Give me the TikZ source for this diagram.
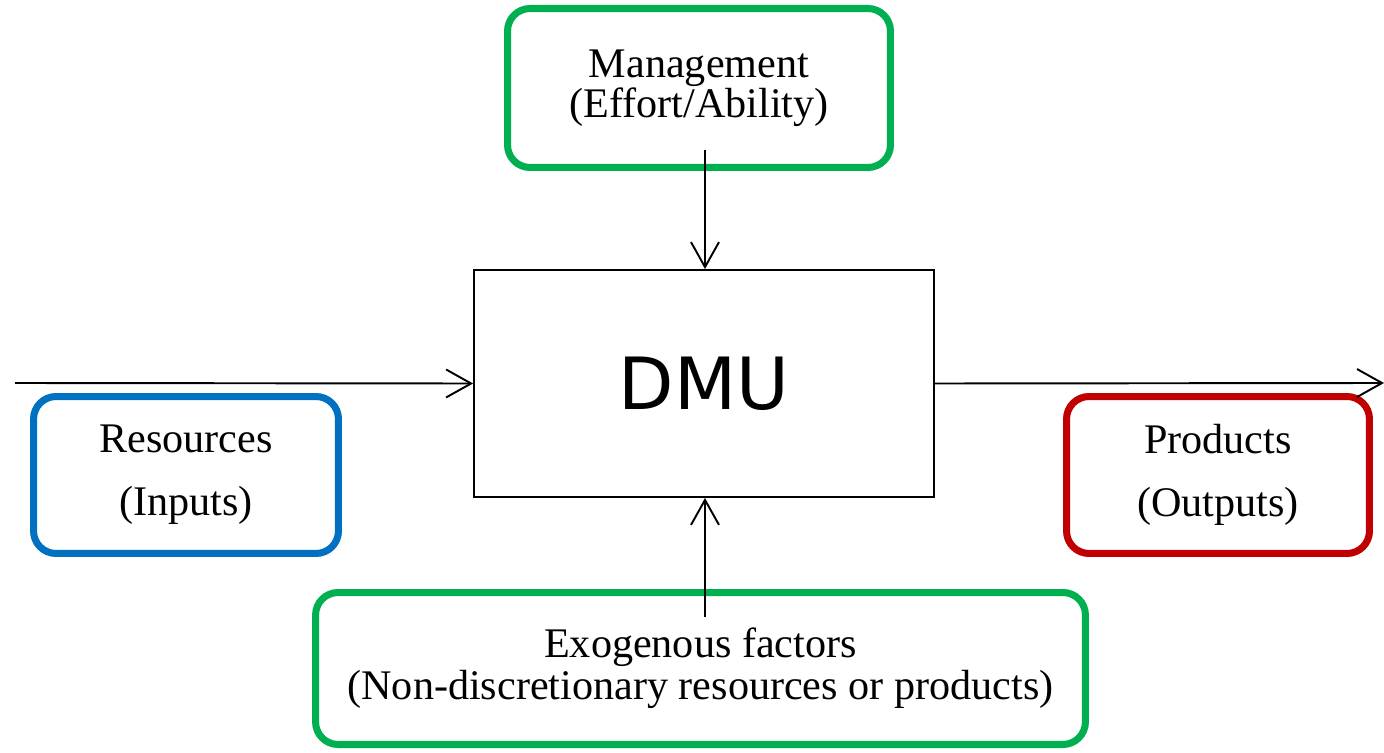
\documentclass[tikz,border=0pt]{standalone}
\usepackage{fontspec}
\setmainfont{Liberation Serif}
\newfontfamily\dmufont{DejaVu Sans}
\usepackage{xcolor}
\usepackage{tikz}
\usetikzlibrary{arrows.meta}
\definecolor{mgreen}{RGB}{0,176,80}
\definecolor{mblue}{RGB}{0,112,192}
\definecolor{mred}{RGB}{192,0,0}
\tikzstyle{flow} = [line width=1.1pt,-{Straight Barb[length=5mm,width=5.6mm]}]
\tikzstyle{factor} = [draw,line width=4pt,rounded corners=0.45cm,align=center,font=\fontsize{24}{23}\selectfont]

\begin{document}
\begin{tikzpicture}[x=0.02cm,y=-0.02cm]
            \useasboundingbox (0,0) rectangle (1384,753);
            \node[draw,line width=1.1pt,minimum width=9.2cm,minimum height=4.54cm,
            font=\dmufont\fontsize{41}{48}\selectfont] (dmu) at (704,383.5) {\raisebox{-0.1cm}{DMU}};
            \node[factor,draw=mgreen,minimum width=7.66cm,minimum height=3.18cm] (mgmt) at (699,88) {Management\\(Effort/Ability)};
            \node[factor,draw=mblue,minimum width=6.1cm,minimum height=3.14cm,
            font=\fontsize{24}{36}\selectfont] (inputs) at (186,475) {Resources\\(Inputs)};
            \node[factor,draw=mred,minimum width=6.06cm,minimum height=3.14cm,
            font=\fontsize{24}{36}\selectfont] (outputs) at (1218,475) {Products\\(Outputs)};
            \node[factor,draw=mgreen,minimum width=15.4cm,minimum height=3.04cm,
            font=\fontsize{24}{24}\selectfont] (exo) at (700.5,668.5) {Exogenous factors\\(Non-discretionary resources or products)};
            \coordinate (src) at (15,383);
            \coordinate (sink) at (1384,383);
            \coordinate (mtop) at (705,150);
            \coordinate (ebot) at (705,617);
            \draw[flow] (src) -- (dmu.west);
            \draw[flow] (dmu.east) -- (sink);
            \draw[flow] (mtop) -- (mtop |- dmu.north);
            \draw[flow] (ebot) -- (ebot |- dmu.south);
\end{tikzpicture}
\end{document}
